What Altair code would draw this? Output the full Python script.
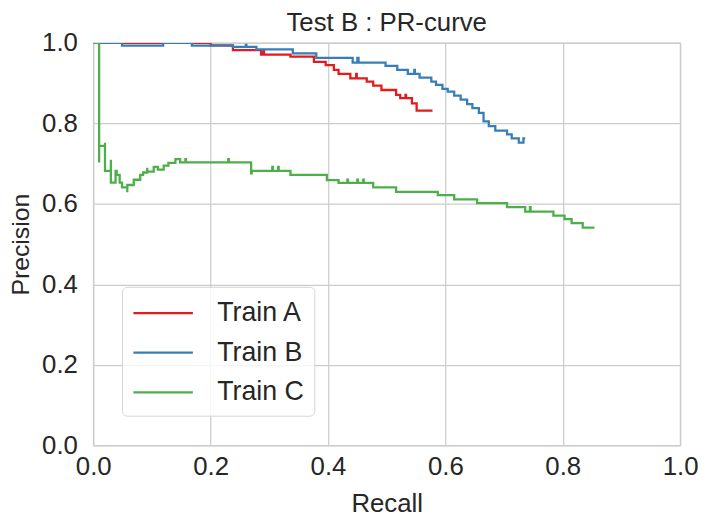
import altair as alt
import pandas as pd

series_names = ["Train A", "Train B", "Train C"]
series_colors = ["#e41a1c", "#377eb8", "#4daf4a"]
tick_values = [0.0, 0.2, 0.4, 0.6, 0.8, 1.0]

# Train A (step-after points: recall, precision)
a_recall = [0.0, 0.200, 0.238, 0.286, 0.290, 0.291, 0.336, 0.376, 0.396, 0.410, 0.418,
            0.438, 0.448, 0.449, 0.466, 0.477, 0.491, 0.516, 0.523, 0.532, 0.533,
            0.543, 0.551, 0.578]
a_precision = [1.0, 0.994, 0.982, 0.971, 0.982, 0.971, 0.966, 0.953, 0.945, 0.933, 0.923,
               0.912, 0.923, 0.912, 0.904, 0.894, 0.883, 0.871, 0.863, 0.871, 0.863,
               0.850, 0.832, 0.832]

# Train B
b_recall = [0.0, 0.049, 0.119, 0.168, 0.238, 0.260, 0.261, 0.278, 0.340, 0.380, 0.442,
            0.450, 0.452, 0.498, 0.518, 0.536, 0.547, 0.548, 0.556, 0.576, 0.584,
            0.595, 0.604, 0.615, 0.626, 0.637, 0.646, 0.657, 0.665, 0.674, 0.685,
            0.705, 0.713, 0.725, 0.733, 0.736]
b_precision = [1.0, 0.993, 1.0, 0.993, 0.990, 0.995, 0.990, 0.984, 0.974, 0.963, 0.951,
               0.963, 0.951, 0.943, 0.933, 0.923, 0.933, 0.923, 0.914, 0.904, 0.896,
               0.886, 0.879, 0.869, 0.859, 0.848, 0.838, 0.826, 0.805, 0.793, 0.782,
               0.773, 0.763, 0.752, 0.763, 0.763]

# Train C
c_recall = [0.0, 0.010, 0.010, 0.020, 0.020, 0.030, 0.030, 0.038, 0.040, 0.045, 0.049,
            0.058, 0.058, 0.069, 0.080, 0.085, 0.092, 0.092, 0.103, 0.110, 0.120,
            0.128, 0.140, 0.148, 0.157, 0.158, 0.230, 0.231, 0.269, 0.270, 0.305,
            0.306, 0.315, 0.316, 0.336, 0.398, 0.418, 0.433, 0.434, 0.450, 0.451,
            0.460, 0.461, 0.477, 0.516, 0.587, 0.615, 0.654, 0.705, 0.736, 0.744,
            0.745, 0.784, 0.803, 0.815, 0.834, 0.854]
c_precision = [1.0, 0.703, 0.744, 0.752, 0.682, 0.710, 0.653, 0.682, 0.672, 0.653, 0.641,
               0.629, 0.647, 0.660, 0.672, 0.678, 0.690, 0.680, 0.692, 0.685, 0.695,
               0.702, 0.711, 0.703, 0.711, 0.703, 0.711, 0.703, 0.676, 0.682, 0.692,
               0.682, 0.692, 0.682, 0.672, 0.659, 0.652, 0.660, 0.652, 0.660, 0.652,
               0.660, 0.652, 0.641, 0.630, 0.622, 0.611, 0.602, 0.592, 0.581, 0.592,
               0.581, 0.571, 0.562, 0.552, 0.541, 0.541]

rows = []
for name, rs, ps in zip(series_names, [a_recall, b_recall, c_recall],
                        [a_precision, b_precision, c_precision]):
    for i, (r, p) in enumerate(zip(rs, ps)):
        rows.append({"model": name, "recall": r, "precision": p, "idx": i})
df = pd.DataFrame(rows)

FONT = "Liberation Sans"
TXT = "#262626"

chart = alt.Chart(df).mark_line(
    interpolate="step-after", strokeWidth=2.3, clip=True
).encode(
    x=alt.X("recall:Q",
            scale=alt.Scale(domain=[0, 1], nice=False, zero=False),
            axis=alt.Axis(title="Recall", values=tick_values, format=".1f",
                          labelFlush=False, labelOverlap=False,
                          labelPadding=8, titlePadding=12)),
    y=alt.Y("precision:Q",
            scale=alt.Scale(domain=[0, 1], nice=False, zero=False),
            axis=alt.Axis(title="Precision", values=tick_values, format=".1f",
                          labelFlush=False, labelOverlap=False,
                          labelPadding=16, titlePadding=8, titleFontSize=25)),
    color=alt.Color("model:N",
                    scale=alt.Scale(domain=series_names, range=series_colors),
                    legend=alt.Legend(title=None, orient="none", legendX=29, legendY=246,
                                      symbolType="M-1,0L3,0", symbolSize=900,
                                      symbolStrokeWidth=2.3, symbolFillColor="transparent",
                                      labelOffset=53,
                                      labelFontSize=27, labelFont=FONT, labelColor=TXT,
                                      padding=10, rowPadding=10,
                                      fillColor="rgba(255,255,255,0.8)",
                                      strokeColor="#d5d5d5", cornerRadius=5)),
    order="idx:Q",
).properties(
    width=592, height=406,
    title=alt.Title("Test B : PR-curve", fontSize=26, font=FONT, color=TXT,
                    fontWeight="normal", offset=-6, anchor="middle"),
    autosize=alt.AutoSizeParams(type="none"),
    padding={"left": 86, "top": 33, "right": 18, "bottom": 70},
).configure_view(
    stroke="#cccccc", strokeWidth=1.25
).configure_axis(
    domain=False, ticks=False, grid=True, gridColor="#cccccc", gridWidth=1.25,
    labelFont=FONT, labelFontSize=26, labelColor=TXT,
    titleFont=FONT, titleFontSize=26, titleColor=TXT, titleFontWeight="normal",
)

chart.save("out.html", embed_options={"renderer": "svg", "actions": False})
